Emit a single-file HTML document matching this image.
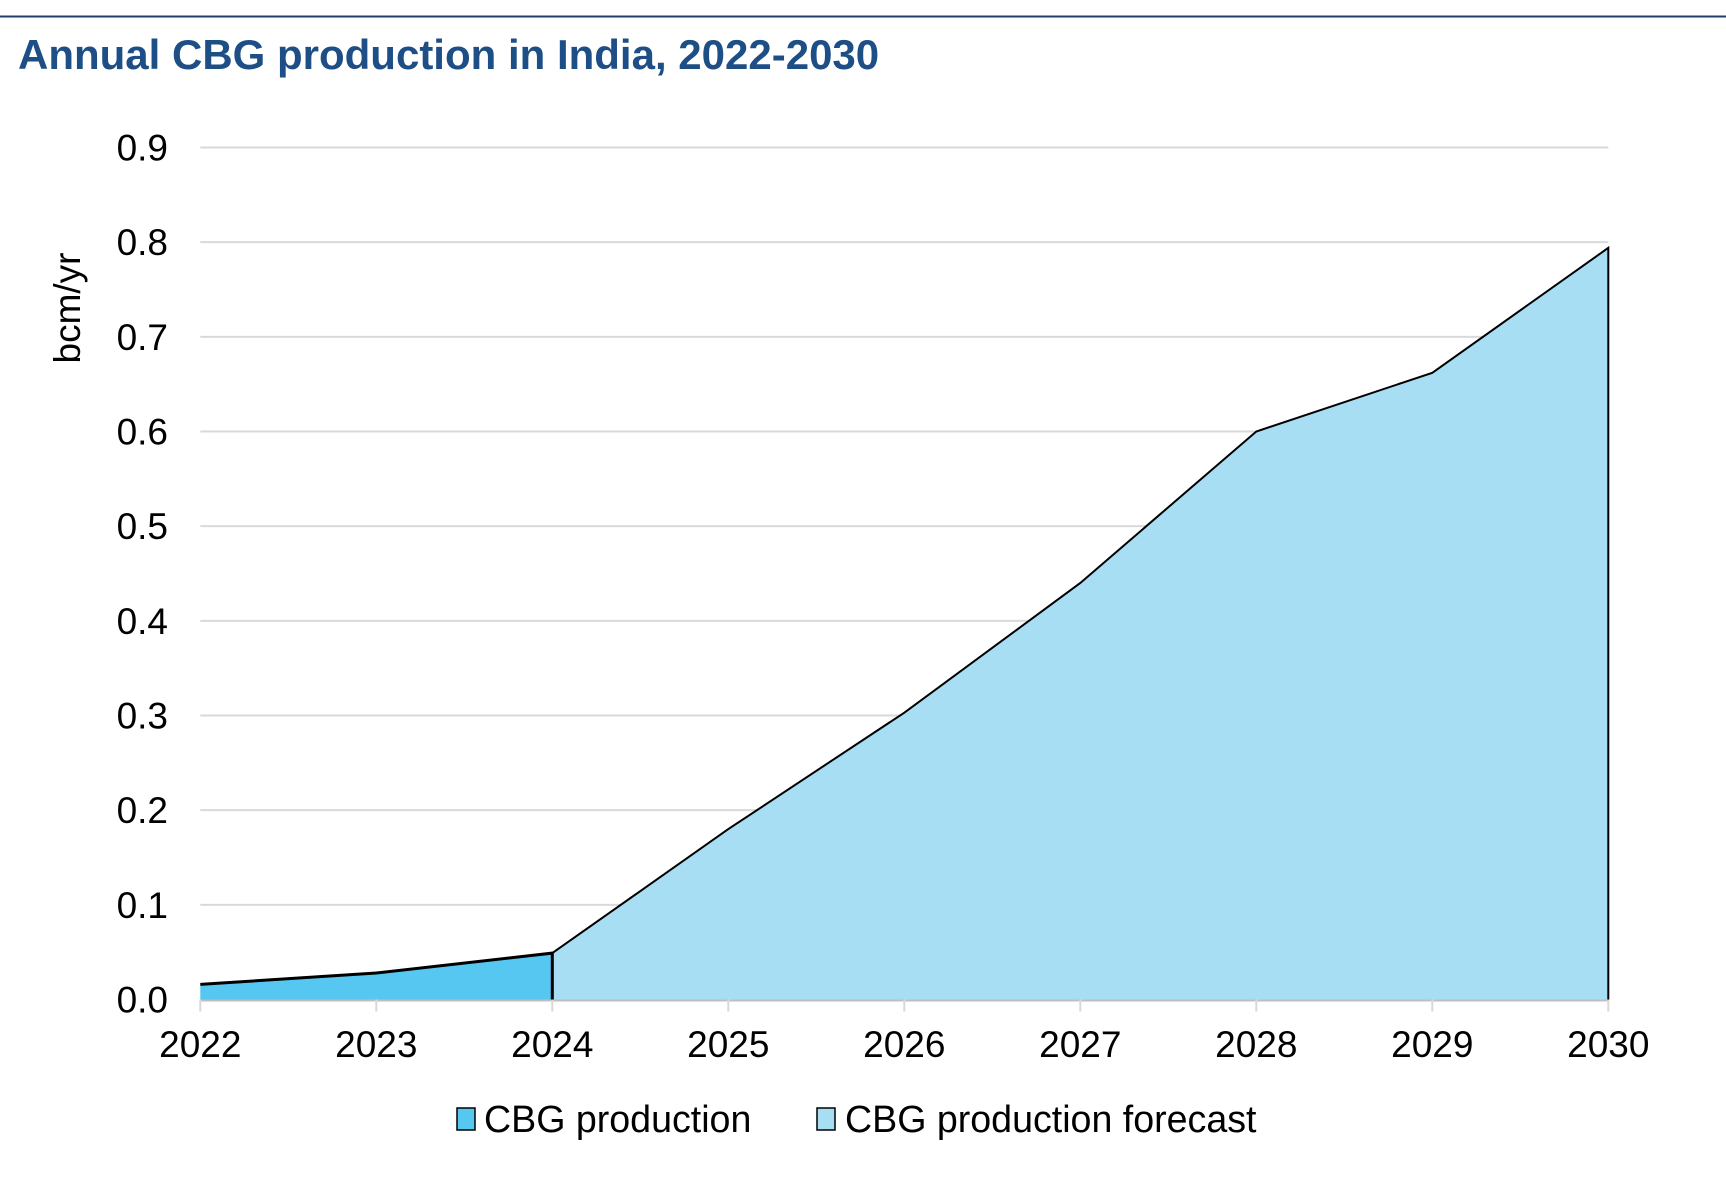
<!DOCTYPE html>
<html><head><meta charset="utf-8"><style>
body{margin:0;background:#fff;width:1726px;height:1177px;overflow:hidden;font-family:"Liberation Sans",Arial,sans-serif}
</style></head><body>
<svg id="chart" width="1726" height="1177">
<line x1="0" y1="16.5" x2="1726" y2="16.5" stroke="#1f3f6b" stroke-width="2"/>
<text x="18" y="69" font-size="42" font-weight="bold" fill="#1d4e85">Annual CBG production in India, 2022-2030</text>
<text transform="translate(80,308) rotate(-90)" text-anchor="middle" font-size="37" fill="#000">bcm/yr</text>
<g id="grid"></g><g id="areas"></g><g id="axes"></g>
<g>
<rect x="457" y="1108" width="18" height="22" fill="#56c7f0" stroke="#000" stroke-width="1.5"/>
<text x="484" y="1132" font-size="37.6">CBG production</text>
<rect x="817" y="1108" width="18" height="22" fill="#a8def4" stroke="#000" stroke-width="1.5"/>
<text x="845" y="1132" font-size="37.6">CBG production forecast</text>
</g>
</svg>
<script>
const years=[2022,2023,2024,2025,2026,2027,2028,2029,2030];
const values=[0.016,0.028,0.049,0.18,0.303,0.44,0.60,0.662,0.794];
const histEnd=2;
const yTicks=[0,0.1,0.2,0.3,0.4,0.5,0.6,0.7,0.8,0.9];
const NS="http://www.w3.org/2000/svg";
const L=200.3,R=1608.3,Y0=999.5,Y9=147.5;
const x=i=>L+(R-L)*i/(years.length-1);
const y=v=>Y0-(Y0-Y9)*v/0.9;
function mk(t,a,p){const e=document.createElementNS(NS,t);for(const k in a)e.setAttribute(k,a[k]);p.appendChild(e);return e;}
const grid=document.getElementById('grid'),areas=document.getElementById('areas'),axes=document.getElementById('axes');
yTicks.forEach(v=>{
 if(v>0){const g=mk('line',{x1:L,x2:R,y1:y(v),y2:y(v),stroke:'#d9d9d9','stroke-width':2},grid);
 
 }
 const t=mk('text',{x:168,y:y(v)+13,'text-anchor':'end','font-size':37},axes);t.textContent=v.toFixed(1);
 
 
});
function area(i0,i1,fill,name){
 let d=`M${x(i0)},${y(0)}`;for(let i=i0;i<=i1;i++)d+=` L${x(i)},${y(values[i])}`;d+=` L${x(i1)},${y(0)} Z`;
 const p=mk('path',{d:d,fill:fill,stroke:'none'},areas);
 
 
 let l=`M${x(i0)},${y(values[i0])}`;for(let i=i0+1;i<=i1;i++)l+=` L${x(i)},${y(values[i])}`;l+=` L${x(i1)},${y(0)}`;
 const s=mk('path',{d:l,fill:'none',stroke:'#000','stroke-width':i0==0?3:2},areas);
 
 
}
area(histEnd,years.length-1,'#a8def4','forecast-area');
area(0,histEnd,'#56c7f0','production-area');
const ax=mk('line',{x1:L,x2:R,y1:Y0+1,y2:Y0+1,stroke:'#bfbfbf','stroke-width':2},axes);


years.forEach((yr,i)=>{
 const tk=mk('line',{x1:x(i),x2:x(i),y1:Y0,y2:Y0+12,stroke:'#d9d9d9','stroke-width':2},axes);
 
 
 const t=mk('text',{x:x(i),y:1057,'text-anchor':'middle','font-size':37},axes);t.textContent=yr;
 
 
});
</script>
</body></html>
